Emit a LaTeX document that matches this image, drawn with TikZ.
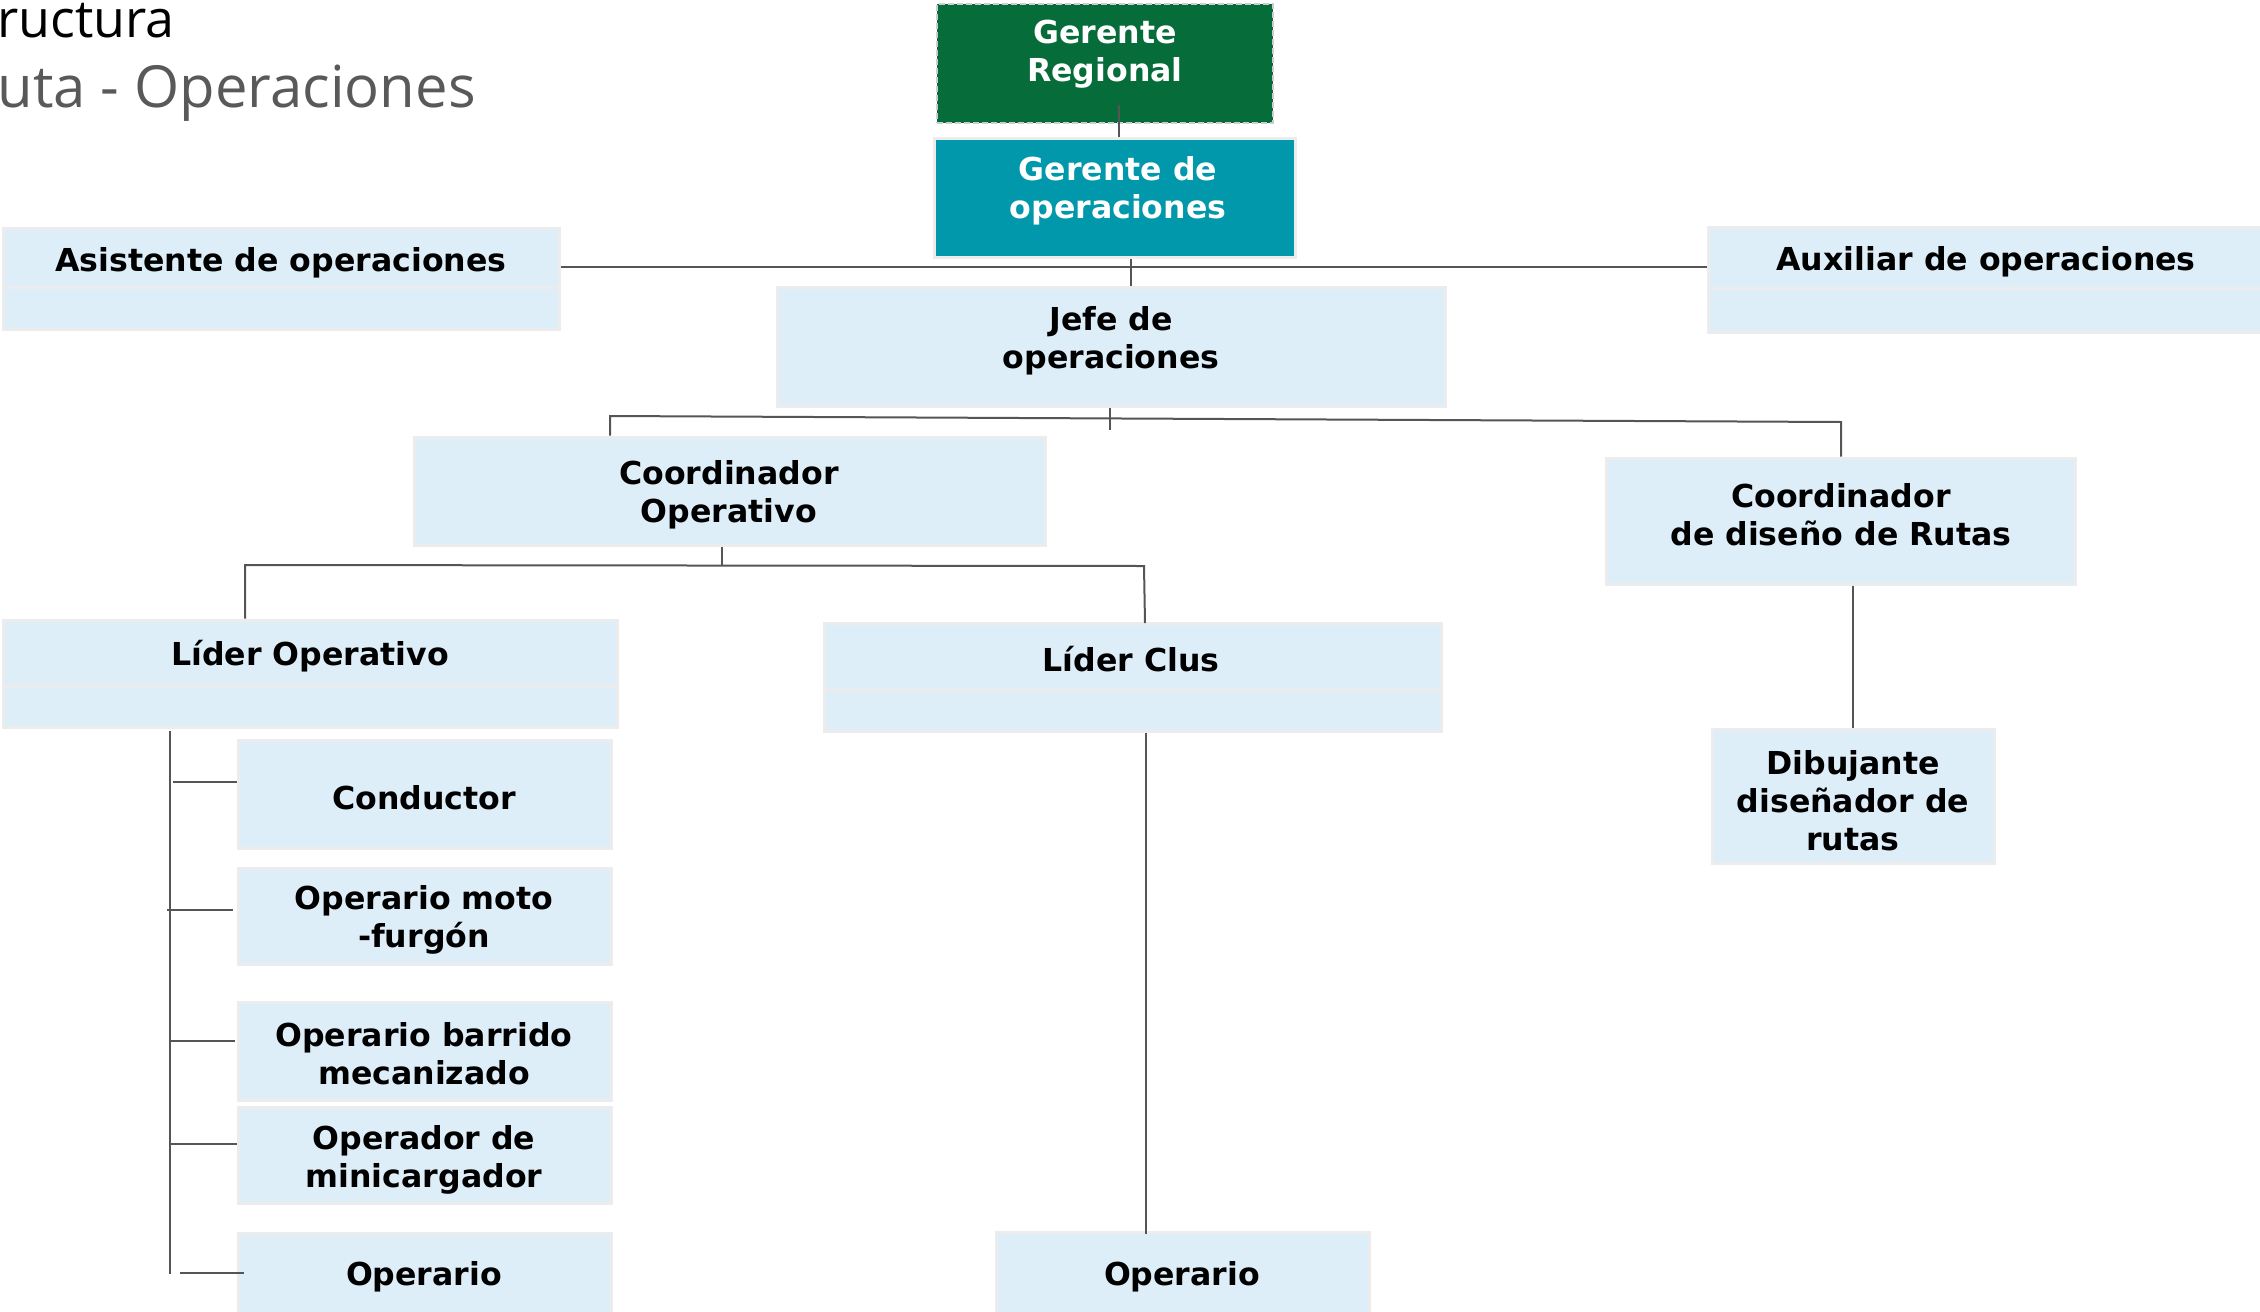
\documentclass[tikz,border=0pt]{standalone}
\usepackage{fontspec}
\newfontfamily\boxfont{DejaVu Sans}
\newfontfamily\titlefont{Open Sans}
\definecolor{gdark}{RGB}{6,108,58}
\definecolor{teal}{RGB}{0,152,170}
\definecolor{lblue}{RGB}{222,238,249}
\definecolor{bord}{RGB}{236,236,236}
\definecolor{lgray}{RGB}{85,85,85}
\definecolor{tgray}{RGB}{89,89,89}
\definecolor{dashc}{RGB}{205,205,205}
\begin{document}
\begin{tikzpicture}[x=0.5pt,y=-0.5pt,
  bx/.style n args={2}{rectangle, inner sep=0pt, minimum width=#1*0.5pt, minimum height=#2*0.5pt},
  lb/.style={fill=lblue, draw=bord, line width=1.5pt},
  txt/.style={inner sep=0pt, align=center, yshift=-1.5pt, font=\boxfont\bfseries\fontsize{15.8}{19}\selectfont},
  wtxt/.style={txt, text=white},
  conn/.style={draw=lgray, line width=1pt},
  ttl/.style={anchor=base west, inner sep=0pt}]
\clip (0,0) rectangle (2260,1312);

% titles
\node[ttl, font=\titlefont\fontsize{26}{30}\selectfont] (t1) at (-3,37) {ructura};
\node[ttl, text=tgray, font=\titlefont\fontsize{29}{34}\selectfont] (t2) at (-3,107) {uta - Operaciones};

% boxes
\node[bx={336}{119}, fill=gdark, draw=dashc, line width=1pt, dash pattern=on 3pt off 1.5pt] (greg) at (1105,63.5) {};
\node[wtxt] (gregt) at (1105,51) {Gerente\\Regional};

\node[bx={361}{119}, fill=teal, draw=bord, line width=1.5pt] (gop) at (1114.5,197.5) {};
\node[wtxt] (gopt) at (1118,188) {Gerente de\\operaciones};

\node[lb, bx={668}{119}] (jefe) at (1111,346.5) {};
\node[txt] (jefet) at (1111,338) {Jefe de\\operaciones};

\node[lb, bx={556}{59}] (asisT) at (281,257.5) {};
\node[lb, bx={556}{42}] (asisB) at (281,308) {};
\node[txt] (asist) at (281,260) {Asistente de operaciones};

\node[lb, bx={556}{61}] (auxT) at (1986,257.5) {};
\node[lb, bx={556}{44}] (auxB) at (1986,310) {};
\node[txt] (auxt) at (1986,259) {Auxiliar de operaciones};

\node[lb, bx={631}{108}] (cop) at (729.5,491) {};
\node[txt] (copt) at (729,491.5) {Coordinador\\Operativo};

\node[lb, bx={469}{126}] (crut) at (1840.5,521) {};
\node[txt] (crutt) at (1841,511.5) {Coordinador\\de diseño de Rutas};

\node[lb, bx={282}{134}] (dib) at (1853,796) {};
\node[txt] (dibt) at (1853,798) {Dibujante\\diseñador de\\rutas};

\node[lb, bx={614}{66}] (lopT) at (310,653) {};
\node[lb, bx={614}{41}] (lopB) at (310,706.5) {};
\node[txt] (lopt) at (310,653.5) {Líder Operativo};

\node[lb, bx={617}{66}] (lclT) at (1132.5,656) {};
\node[lb, bx={617}{42}] (lclB) at (1132.5,710) {};
\node[txt] (lclt) at (1131,656) {Líder Clus};

\node[lb, bx={373}{84}] (opr) at (1182.5,1274) {};
\node[txt] (oprt) at (1182,1274) {Operario};

\node[lb, bx={373}{108}] (cond) at (424.5,794) {};
\node[txt] (condt) at (424,795) {Conductor};

\node[lb, bx={373}{96}] (moto) at (424.5,916) {};
\node[txt] (motot) at (424,917) {Operario moto\\-furgón};

\node[lb, bx={373}{98}] (barr) at (424.5,1051) {};
\node[txt] (barrt) at (424,1050.5) {Operario barrido\\mecanizado};

\node[lb, bx={373}{96}] (mini) at (424.5,1155) {};
\node[txt] (minit) at (424,1157) {Operador de\\minicargador};

\node[lb, bx={373}{83}] (opl) at (424.5,1274.5) {};
\node[txt] (oplt) at (424,1274) {Operario};

% connector coordinates
\coordinate (a1) at (1118.5,105);
\coordinate (a2) at (1131,267);
\coordinate (b0) at (1110,430);
\coordinate (bL) at (610,416);
\coordinate (bR) at (1841,422);
\coordinate (c0) at (722,565);
\coordinate (cL) at (245,565);
\coordinate (cR) at (1144,566);
\coordinate (cR2) at (1145,623);
\coordinate (v1) at (170,731);
\coordinate (v2) at (170,1274);
\coordinate (h1) at (173,782);
\coordinate (h2) at (167,910);
\coordinate (h2e) at (233,910);
\coordinate (h3) at (170,1041);
\coordinate (h3e) at (235,1041);
\coordinate (h4) at (170,1144);
\coordinate (h4e) at (237,1144);
\coordinate (h5) at (180,1273);
\coordinate (h5e) at (244,1273);

% connectors
\draw[conn] (a1) -- (a1 |- gop.north);
\draw[conn] (gop.south -| a2) -- (jefe.north -| a2);
\draw[conn] (asisT.east |- a2) -- (auxT.west |- a2);
\draw[conn] (jefe.south -| b0) -- (b0);
\draw[conn] (cop.north -| bL) -- (bL) -- (bR) -- (crut.north -| bR);
\draw[conn] (crut.south -| dib.north) -- (dib.north);
\draw[conn] (cop.south -| c0) -- (c0);
\draw[conn] (lopT.north -| cL) -- (cL) -- (cR) -- (cR2);
\draw[conn] (lclB.south -| opr.north) ++(-36.5,0) -- ++(0,501);
\draw[conn] (v1) -- (v2);
\draw[conn] (h1) -- (h1 -| cond.west);
\draw[conn] (h2) -- (h2e);
\draw[conn] (h3) -- (h3e);
\draw[conn] (h4) -- (h4e);
\draw[conn] (h5) -- (h5e);
\end{tikzpicture}
\end{document}
